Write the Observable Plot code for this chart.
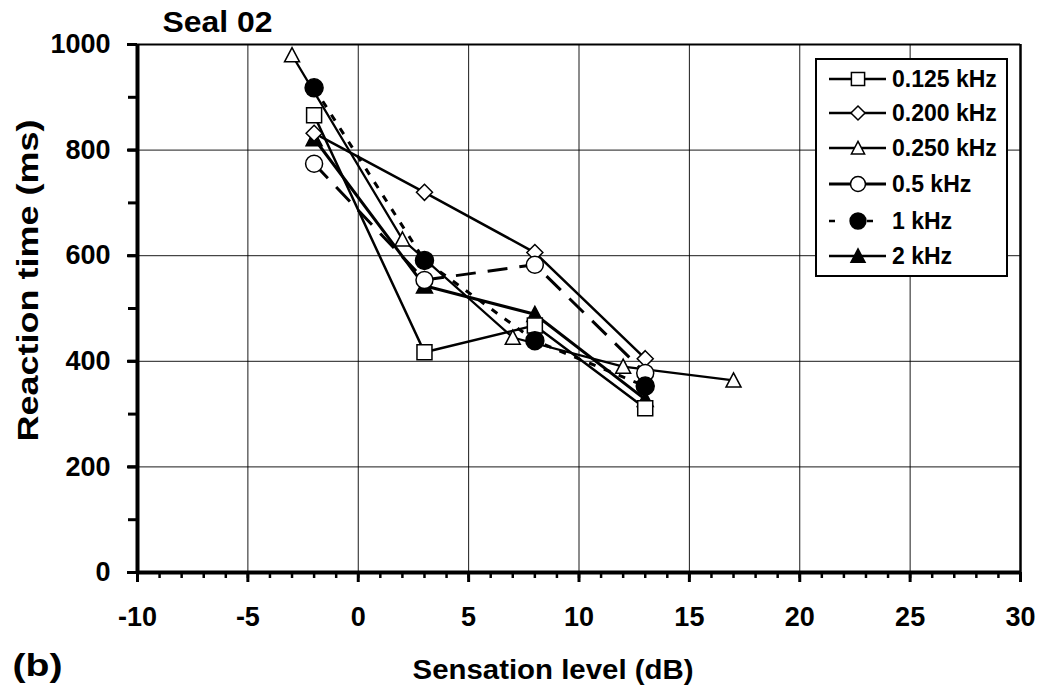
<!DOCTYPE html>
<html>
<head>
<meta charset="utf-8">
<script src="https://cdn.jsdelivr.net/npm/d3@7"></script>
<script src="https://cdn.jsdelivr.net/npm/@observablehq/plot@0.6"></script>
<style>
  body { margin: 0; background: #fff; }
  #wrap { position: relative; width: 1042px; height: 700px; }
  #legend { position: absolute; left: 0; top: 0; pointer-events: none; }
</style>
</head>
<body>
<div id="wrap"></div>
<script>
// Reaction time vs sensation level, Seal 02, per test frequency
const series = ["0.125 kHz", "0.200 kHz", "0.250 kHz", "0.5 kHz", "1 kHz", "2 kHz"];

const sl125 = [-2, 3, 8, 13];
const rt125 = [866, 417, 468, 311];
const sl200 = [-2, 3, 8, 13];
const rt200 = [832, 720, 606, 405];
const sl250 = [-3, 2, 7, 12, 17];
const rt250 = [980, 631, 445, 390, 364];
const sl500 = [-2, 3, 8, 13];
const rt500 = [774, 554, 583, 378];
const sl1k = [-2, 3, 8, 13];
const rt1k = [918, 591, 439, 353];
const sl2k = [-2, 3, 8, 13];
const rt2k = [822, 543, 489, 328];

const xMajor = [-10, -5, 0, 5, 10, 15, 20, 25, 30];
const xMinor = d3.range(-10, 31, 1);
const yMajor = [0, 200, 400, 600, 800, 1000];
const yMinor = d3.range(0, 1001, 100);

// Marker shapes whose half-width equals the dot radius r
const half = size => Math.sqrt(size / Math.PI);
const square = {draw(c, s) { const h = half(s); c.moveTo(-h, -h); c.lineTo(h, -h); c.lineTo(h, h); c.lineTo(-h, h); c.closePath(); }};
const diamond = {draw(c, s) { const h = half(s); c.moveTo(0, -h); c.lineTo(h, 0); c.lineTo(0, h); c.lineTo(-h, 0); c.closePath(); }};
const triangle = {draw(c, s) { const h = half(s); c.moveTo(0, -h); c.lineTo(h, h * 0.9); c.lineTo(-h, h * 0.9); c.closePath(); }};
const circle = {draw(c, s) { const h = half(s); c.moveTo(h, 0); c.arc(0, 0, h, 0, 2 * Math.PI); c.closePath(); }};

const styles = {
  "0.125 kHz": {sl: sl125, rt: rt125, symbol: square,   r: 7.5, fill: "white", dash: null,    width: 2.5},
  "0.200 kHz": {sl: sl200, rt: rt200, symbol: diamond,  r: 8,   fill: "white", dash: null,    width: 2.5},
  "0.250 kHz": {sl: sl250, rt: rt250, symbol: triangle, r: 7.5, fill: "white", dash: null,    width: 2.2},
  "0.5 kHz":   {sl: sl500, rt: rt500, symbol: circle,   r: 8.5, fill: "white", dash: "20 12", width: 3},
  "1 kHz":     {sl: sl1k,  rt: rt1k,  symbol: circle,   r: 9,   fill: "black", dash: "7 9",   width: 3},
  "2 kHz":     {sl: sl2k,  rt: rt2k,  symbol: triangle, r: 8,   fill: "black", dash: null,    width: 3}
};

const rowsOf = name => styles[name].sl.map((x, i) => ({series: name, x, y: styles[name].rt[i]}));

const font = "'Liberation Sans', Arial, Helvetica, sans-serif";
const dotOrder = ["2 kHz", "0.125 kHz", "0.200 kHz", "0.250 kHz", "0.5 kHz", "1 kHz"];

const chart = Plot.plot({
  width: 1042,
  height: 700,
  marginLeft: 137,
  marginRight: 22,
  marginTop: 44,
  marginBottom: 128,
  style: {fontFamily: font, fontWeight: "bold", background: "white", color: "black"},
  x: {domain: [-10, 30], label: null},
  y: {domain: [0, 1000], label: null},
  marks: [
    Plot.gridX(xMajor, {stroke: "black", strokeOpacity: 0.9, strokeWidth: 1}),
    Plot.gridY(yMajor, {stroke: "black", strokeOpacity: 0.9, strokeWidth: 1}),
    Plot.ruleY([1000], {stroke: "black", strokeWidth: 2}),
    Plot.ruleX([30], {stroke: "black", strokeWidth: 2.5}),
    ...series.map(name => Plot.line(rowsOf(name), {
      x: "x", y: "y", stroke: "black",
      strokeWidth: styles[name].width,
      strokeDasharray: styles[name].dash,
      strokeLinecap: "butt"
    })),
    ...dotOrder.map(name => Plot.dot(rowsOf(name), {
      x: "x", y: "y",
      symbol: styles[name].symbol,
      r: styles[name].r,
      fill: styles[name].fill,
      stroke: "black",
      strokeWidth: 1.5
    })),
    Plot.axisX(xMinor, {tickSize: 6, strokeWidth: 2.5, tickFormat: () => "", label: null}),
    Plot.axisX(xMajor, {tickSize: 10, strokeWidth: 3, tickPadding: 24, fontSize: 27, fontWeight: "bold", tickFormat: d => String(d), label: null}),
    Plot.axisY(yMinor, {tickSize: 9, strokeWidth: 3, tickFormat: () => "", label: null}),
    Plot.axisY(yMajor, {tickSize: 10, strokeWidth: 3, tickPadding: 17, fontSize: 27, fontWeight: "bold", tickFormat: d => String(d), label: null}),
    Plot.ruleY([0], {stroke: "black", strokeWidth: 4}),
    Plot.ruleX([-10], {stroke: "black", strokeWidth: 4}),
    Plot.text(["Sensation level (dB)"], {className: "xlab", frameAnchor: "bottom", dx: -26, dy: 98, lineAnchor: "middle", fontSize: 28, fontWeight: "bold"}),
    Plot.text(["Reaction time (ms)"], {className: "ylab", frameAnchor: "left", dx: -109, dy: -28, rotate: -90, lineAnchor: "middle", textAnchor: "middle", fontSize: 29, fontWeight: "bold"}),
    Plot.text(["Seal 02"], {className: "title", frameAnchor: "top-left", dx: 25, dy: -22, textAnchor: "start", lineAnchor: "middle", fontSize: 30, fontWeight: "bold"}),
    Plot.text(["(b)"], {className: "panel", frameAnchor: "bottom-left", dx: -125, dy: 93, textAnchor: "start", lineAnchor: "middle", fontSize: 32, fontWeight: "bold"})
  ]
});

// Stretch the label texts to their printed lengths
const fit = {xlab: 281, ylab: 322, title: 110, panel: 50};
for (const [cls, len] of Object.entries(fit)) {
  d3.select(chart).selectAll(`g.${cls} text`)
    .attr("textLength", len)
    .attr("lengthAdjust", "spacingAndGlyphs");
}

const wrap = document.getElementById("wrap");
wrap.appendChild(chart);

// Legend box drawn over the plot area
const legend = d3.select(wrap).append("svg")
  .attr("id", "legend")
  .attr("width", 1042).attr("height", 700);
legend.append("rect")
  .attr("x", 816).attr("y", 59).attr("width", 191).attr("height", 217)
  .attr("fill", "white").attr("stroke", "black").attr("stroke-width", 2);

const legendRows = [79, 113, 148, 184, 221, 256];
const legendDash = {"1 kHz": "6 32"};
series.forEach((name, i) => {
  const s = styles[name];
  const y = legendRows[i];
  const g = legend.append("g");
  g.append("line")
    .attr("x1", 829).attr("x2", name === "1 kHz" ? 875 : 886)
    .attr("y1", y).attr("y2", y)
    .attr("stroke", "black")
    .attr("stroke-width", name === "0.5 kHz" ? 3 : 2.5)
    .attr("stroke-dasharray", legendDash[name] || null);
  g.append("path")
    .attr("transform", `translate(858,${y})`)
    .attr("d", d3.symbol(s.symbol, Math.PI * (s.r * 0.88) ** 2)())
    .attr("fill", s.fill).attr("stroke", "black").attr("stroke-width", 1.5);
  g.append("text")
    .attr("x", 892).attr("y", y).attr("dy", "0.36em")
    .attr("font-family", font).attr("font-weight", "bold").attr("font-size", 23)
    .text(name);
});
</script>
</body>
</html>
